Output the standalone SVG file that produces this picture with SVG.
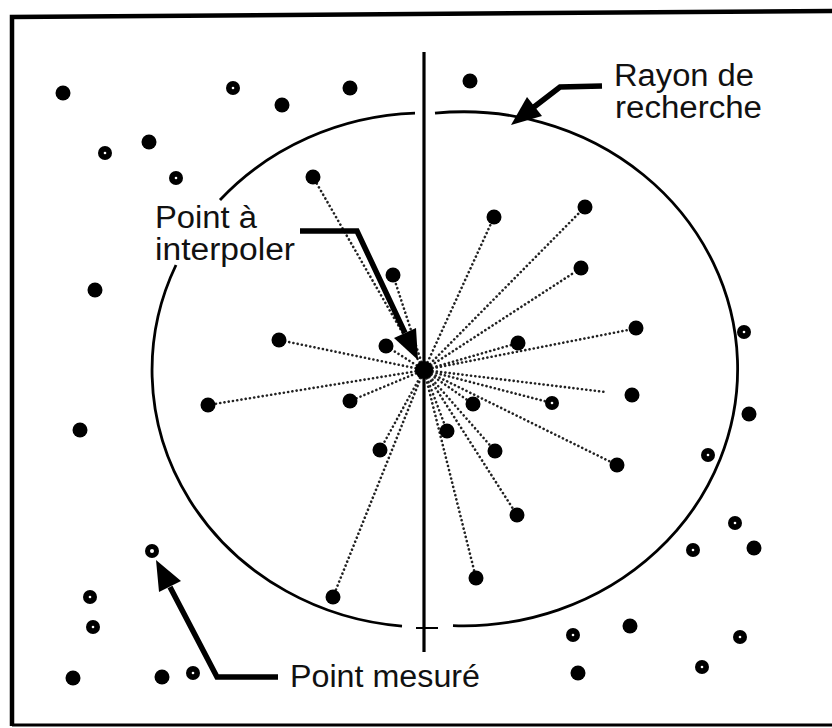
<svg xmlns="http://www.w3.org/2000/svg" xmlns:xlink="http://www.w3.org/1999/xlink" width="832" height="728" viewBox="0 0 832 728">
<style>
.lbl{font-family:"Liberation Sans",Arial,Helvetica,sans-serif;font-size:31px;fill:#111}
.ray{fill:none;stroke:#222;stroke-width:2.6;stroke-linecap:round;stroke-dasharray:0.1 4.2}
.arr{fill:none;stroke:#000;stroke-width:5.5;stroke-linejoin:miter}
.head{fill:#000}
.circ{fill:none;stroke:#000;stroke-width:2.8}
</style>
<defs>
<g id="dot"><circle r="7.5" fill="#000"/></g>
<g id="ring"><circle r="7" fill="#000"/><circle r="1.3" fill="#fff"/></g>
</defs>
<rect width="832" height="728" fill="#fff"/>
<g id="frame">
<path d="M12,726 L12,17 L832,11" fill="none" stroke="#000" stroke-width="4.5"/>
<path d="M12,725 L832,725" fill="none" stroke="#000" stroke-width="3"/>
</g>
<g id="search-radius">
<path class="circ" d="M435,113.2 A274,257 0 1 1 453,625.6"/>
<path class="circ" d="M402,626.1 A274,257 0 0 1 176,265"/>
<path class="circ" d="M220,200 A274,257 0 0 1 415,113.2"/>
</g>
<g id="axis">
<line x1="424" y1="52" x2="424" y2="652" stroke="#000" stroke-width="3.2"/>
<line x1="416" y1="628" x2="438" y2="628" stroke="#000" stroke-width="2"/>
</g>
<g id="connectors">
<path class="ray" d="M424,370 L313,177"/>
<path class="ray" d="M424,370 L494,217"/>
<path class="ray" d="M424,370 L585,207"/>
<path class="ray" d="M424,370 L393,275"/>
<path class="ray" d="M424,370 L575,272"/>
<path class="ray" d="M424,370 L279,340"/>
<path class="ray" d="M424,370 L386,346"/>
<path class="ray" d="M424,370 L518,343"/>
<path class="ray" d="M424,370 L628,330"/>
<path class="ray" d="M424,370 L208,405"/>
<path class="ray" d="M424,370 L350,401"/>
<path class="ray" d="M424,370 L473,404"/>
<path class="ray" d="M424,370 L552,403"/>
<path class="ray" d="M424,370 L605,392"/>
<path class="ray" d="M424,370 L447,431"/>
<path class="ray" d="M424,370 L495,451"/>
<path class="ray" d="M424,370 L380,450"/>
<path class="ray" d="M424,370 L617,465"/>
<path class="ray" d="M424,370 L517,515"/>
<path class="ray" d="M424,370 L476,578"/>
<path class="ray" d="M424,370 L333,597"/>
<g id="arrow-rayon">
<path class="arr" d="M602,86 L560,87 L534,107"/>
<polygon class="head" points="511,125 542,116 527,97"/>
</g>
<g id="arrow-interpoler">
<path class="arr" d="M300,231 L357,231 L405,333"/>
<polygon class="head" points="418,360 416,328 394,338"/>
</g>
<g id="arrow-mesure">
<path class="arr" d="M278,677 L217,677 L170,587"/>
<polygon class="head" points="156,560 181,581 159,592"/>
</g>
</g>
<g id="points-inside">
<use xlink:href="#dot" x="313" y="177"/>
<use xlink:href="#dot" x="494" y="217"/>
<use xlink:href="#dot" x="585" y="207"/>
<use xlink:href="#dot" x="393" y="275"/>
<use xlink:href="#dot" x="581" y="268"/>
<use xlink:href="#dot" x="279" y="340"/>
<use xlink:href="#dot" x="386" y="346"/>
<use xlink:href="#dot" x="518" y="343"/>
<use xlink:href="#dot" x="636" y="328"/>
<use xlink:href="#dot" x="208" y="405"/>
<use xlink:href="#dot" x="350" y="401"/>
<use xlink:href="#dot" x="473" y="404"/>
<use xlink:href="#ring" x="552" y="403"/>
<use xlink:href="#dot" x="632" y="395"/>
<use xlink:href="#dot" x="447" y="431"/>
<use xlink:href="#dot" x="495" y="451"/>
<use xlink:href="#dot" x="380" y="450"/>
<use xlink:href="#dot" x="617" y="465"/>
<use xlink:href="#dot" x="517" y="515"/>
<use xlink:href="#dot" x="476" y="578"/>
<use xlink:href="#dot" x="333" y="597"/>
</g>
<g id="points-outside">
<use xlink:href="#dot" x="63" y="93"/>
<use xlink:href="#ring" x="233" y="88"/>
<use xlink:href="#dot" x="282" y="105"/>
<use xlink:href="#dot" x="350" y="88"/>
<use xlink:href="#dot" x="470" y="81"/>
<use xlink:href="#ring" x="105" y="153"/>
<use xlink:href="#dot" x="149" y="142"/>
<use xlink:href="#ring" x="176" y="178"/>
<use xlink:href="#dot" x="95" y="290"/>
<use xlink:href="#dot" x="80" y="430"/>
<use xlink:href="#ring" x="744" y="332"/>
<use xlink:href="#dot" x="749" y="414"/>
<use xlink:href="#ring" x="708" y="455"/>
<use xlink:href="#ring" x="735" y="523"/>
<use xlink:href="#ring" x="693" y="550"/>
<use xlink:href="#dot" x="754" y="548"/>
<use xlink:href="#ring" x="90" y="597"/>
<use xlink:href="#ring" x="93" y="627"/>
<use xlink:href="#dot" x="73" y="678"/>
<use xlink:href="#dot" x="162" y="677"/>
<use xlink:href="#ring" x="193" y="673"/>
<use xlink:href="#ring" x="573" y="635"/>
<use xlink:href="#dot" x="630" y="626"/>
<use xlink:href="#dot" x="578" y="673"/>
<use xlink:href="#ring" x="740" y="637"/>
<use xlink:href="#ring" x="702" y="667"/>
</g>
<g id="point-mesure">
<circle cx="152" cy="551" r="7" fill="#000"/>
<circle cx="152" cy="551" r="2" fill="#fff"/>
</g>
<g id="point-interpoler">
<circle cx="424" cy="370" r="9" fill="#000"/>
</g>
<g id="label-rayon">
<text class="lbl" x="614" y="86" textLength="140" lengthAdjust="spacingAndGlyphs">Rayon de</text>
<text class="lbl" x="615" y="118" textLength="147" lengthAdjust="spacingAndGlyphs">recherche</text>
</g>
<g id="label-interpoler">
<text class="lbl" x="155" y="228" textLength="102" lengthAdjust="spacingAndGlyphs">Point à</text>
<text class="lbl" x="155" y="260" textLength="140" lengthAdjust="spacingAndGlyphs">interpoler</text>
</g>
<g id="label-mesure">
<text class="lbl" x="290" y="687" textLength="190" lengthAdjust="spacingAndGlyphs">Point mesuré</text>
</g>
</svg>
